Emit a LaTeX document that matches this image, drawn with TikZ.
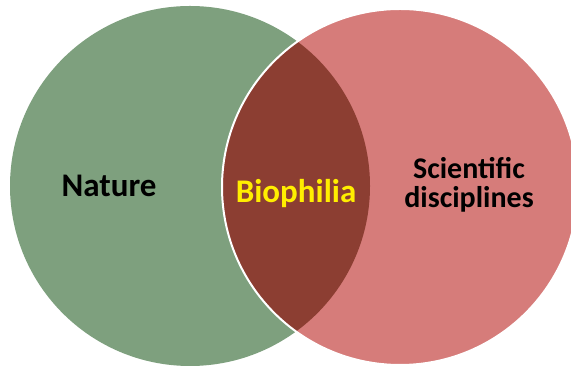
\documentclass[tikz,border=0pt]{standalone}
\usepackage{fontspec}
\setmainfont{Carlito}
\usepackage{xcolor}
\definecolor{natureGreen}{RGB}{126,160,126}
\definecolor{scienceRose}{RGB}{214,124,122}
\definecolor{biophiliaBrown}{RGB}{140,62,50}
\definecolor{labelYellow}{RGB}{255,238,0}
\newcommand{\tikzUnit}{0.5pt}
\newcommand{\natureRadius}{180}
\newcommand{\scienceRadius}{178}
\tikzset{
  vennLabel/.style={font=\bfseries\fontsize{16.5}{18}\selectfont, inner sep=0pt},
  scienceLabel/.style={font=\bfseries\fontsize{15}{14.5}\selectfont, align=center, inner sep=0pt}
}

\begin{document}
\begin{tikzpicture}[x=\tikzUnit, y=\tikzUnit]
\useasboundingbox (0,0) rectangle (571,368);
\coordinate (natureCentre) at (190,182);
\coordinate (scienceCentre) at (400,181);

\fill[natureGreen] (natureCentre) circle (\natureRadius);
\fill[scienceRose] (scienceCentre) circle (\scienceRadius);
\begin{scope}
\clip (natureCentre) circle (\natureRadius);
\fill[biophiliaBrown] (scienceCentre) circle (\scienceRadius);
\end{scope}
\draw[white, line width=1pt] (scienceCentre) circle (\scienceRadius);

\node[vennLabel, anchor=base] (nature) at (109,171) {Nature};
\node[vennLabel, anchor=base, text=labelYellow] (biophilia) at (296,165) {Biophilia};
\node[scienceLabel] (science) at (469,183) {Scientific\\disciplines};
\end{tikzpicture}
\end{document}
